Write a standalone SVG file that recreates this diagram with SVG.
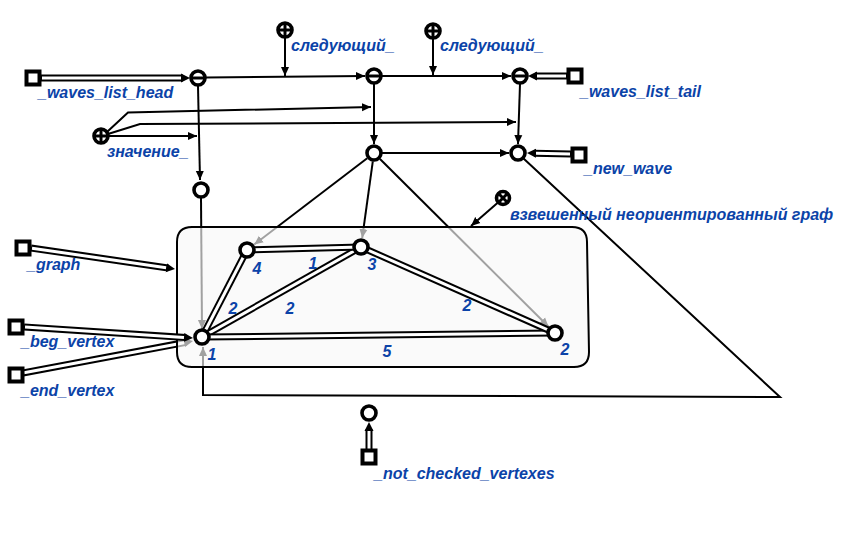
<svg xmlns="http://www.w3.org/2000/svg" width="851" height="533" viewBox="0 0 851 533">
  <defs>
    <marker id="arrow" markerUnits="userSpaceOnUse" markerWidth="10" markerHeight="10" refX="9" refY="5" orient="auto">
      <path d="M0,1 L9,5 L0,9 Z" fill="#000"/>
    </marker>
    <marker id="arrow-dbl" markerUnits="userSpaceOnUse" markerWidth="10" markerHeight="10" refX="2" refY="5" orient="auto">
      <path d="M0,0.5 L9,5 L0,9.5 Z" fill="#000"/>
    </marker>
    <style>
      .arc { fill: none; stroke: #000; stroke-width: 2; marker-end: url(#arrow); }
      .pair-out { fill: none; stroke: #000; stroke-width: 7; }
      .pair-out-a { fill: none; stroke: #000; stroke-width: 7; marker-end: url(#arrow-dbl); }
      .pair-in { fill: none; stroke: #fff; stroke-width: 3; }
      .node { fill: #fff; stroke: #000; stroke-width: 3.6; }
      .mark { stroke: #000; stroke-width: 3; }
      .sq { fill: #fff; stroke: #000; stroke-width: 4; }
      .lbl { font-family: "Liberation Sans", Arial, sans-serif; font-size: 16px; font-weight: bold; font-style: italic; fill: #0b43a8; }
      .num { text-anchor: middle; }
      .box { fill: #f8f8f8; fill-opacity: 0.65; stroke: #000; stroke-width: 2; }
    </style>
  </defs>
  <rect width="851" height="533" fill="#fff"/>

  <!-- connectors (drawn under the graph structure) -->
  <g id="connectors">
    <!-- list chain -->
    <line class="arc" x1="206" y1="77.5" x2="365" y2="76"/>
    <line class="arc" x1="382" y1="76" x2="511" y2="76"/>
    <line class="arc" x1="285" y1="38" x2="285" y2="76"/>
    <line class="arc" x1="433" y1="39" x2="433" y2="75"/>
    <line class="arc" x1="198" y1="86" x2="200" y2="180"/>
    <line class="arc" x1="374" y1="84" x2="374" y2="144"/>
    <line class="arc" x1="520" y1="84" x2="518" y2="144"/>
    <line class="arc" x1="382" y1="153" x2="509" y2="153"/>
    <!-- value_ relation -->
    <polyline class="arc" points="107,132 128,112.5 371,107"/>
    <polyline class="arc" points="108,134 140,124 516,122"/>
    <line class="arc" x1="109" y1="136" x2="197" y2="136"/>
    <!-- membership arcs into the graph -->
    <line class="arc" x1="201" y1="198" x2="202" y2="329"/>
    <line class="arc" x1="367.2" y1="158.2" x2="254.2" y2="244.5"/>
    <line class="arc" x1="372.8" y1="161.4" x2="362.2" y2="238.1"/>
    <line class="arc" x1="380" y1="159" x2="548.6" y2="326.7"/>
    <polyline class="arc" points="523,158 780,397 203,395 203,347"/>
    <!-- pointer pairs -->
    <line class="pair-out-a" x1="41" y1="78" x2="183" y2="78"/>
    <line class="pair-in" x1="42" y1="78" x2="181" y2="78"/>
    <line class="pair-out-a" x1="567" y1="76" x2="535" y2="76"/>
    <line class="pair-in" x1="566" y1="76" x2="537" y2="76"/>
    <line class="pair-out-a" x1="571" y1="154" x2="534" y2="153.2"/>
    <line class="pair-in" x1="570" y1="154" x2="536" y2="153.2"/>
    <line class="pair-out-a" x1="31" y1="248" x2="168.1" y2="268"/>
    <line class="pair-in" x1="32" y1="248.2" x2="166.1" y2="267.7"/>
    <line class="pair-out-a" x1="23" y1="373" x2="186.1" y2="342.3"/>
    <line class="pair-in" x1="24" y1="372.8" x2="184.2" y2="342.7"/>
    <line class="pair-out-a" x1="369" y1="450" x2="369" y2="429"/>
    <line class="pair-in" x1="369" y1="449" x2="369" y2="431"/>
    <line class="arc" x1="498" y1="202.5" x2="471" y2="226"/>
  </g>

  <!-- weighted undirected graph -->
  <g id="graph">
    <path class="box" d="M192,227 L572,227 Q587,227 587,242 L589,352 Q589,367 574,367 L192,367 Q177,367 177,352 L177,242 Q177,227 192,227 Z"/>
    <g id="graph-edges">
      <line class="pair-out" x1="202" y1="337" x2="247" y2="250"/>
      <line class="pair-in" x1="202" y1="337" x2="247" y2="250"/>
      <line class="pair-out" x1="202" y1="337" x2="361" y2="247"/>
      <line class="pair-in" x1="202" y1="337" x2="361" y2="247"/>
      <line class="pair-out" x1="202" y1="337" x2="555" y2="333"/>
      <line class="pair-in" x1="202" y1="337" x2="555" y2="333"/>
      <line class="pair-out" x1="247" y1="250" x2="361" y2="247"/>
      <line class="pair-in" x1="247" y1="250" x2="361" y2="247"/>
      <line class="pair-out" x1="361" y1="247" x2="555" y2="333"/>
      <line class="pair-in" x1="361" y1="247" x2="555" y2="333"/>
    </g>
    <g id="v1"><circle class="node" cx="202" cy="337" r="7"/><text class="lbl num" x="212" y="360">1</text></g>
    <g id="v2"><circle class="node" cx="555" cy="333" r="7"/><text class="lbl num" x="565" y="355">2</text></g>
    <g id="v3"><circle class="node" cx="361" cy="247" r="7"/><text class="lbl num" x="372" y="270">3</text></g>
    <g id="v4"><circle class="node" cx="247" cy="250" r="7"/><text class="lbl num" x="257" y="274">4</text></g>
    <g id="weights">
      <text class="lbl num" x="313" y="269">1</text>
      <text class="lbl num" x="233" y="314">2</text>
      <text class="lbl num" x="290" y="314">2</text>
      <text class="lbl num" x="467" y="311">2</text>
      <text class="lbl num" x="387" y="357">5</text>
    </g>
  </g>

  <!-- pair drawn over the structure border -->
  <g id="connectors-top">
    <line class="pair-out-a" x1="24" y1="327" x2="186" y2="337.6"/>
    <line class="pair-in" x1="25" y1="327.1" x2="184" y2="337.4"/>
  </g>

  <!-- list nodes -->
  <g id="wave1"><circle class="node" cx="198" cy="78" r="7"/><line class="mark" x1="192" y1="78" x2="204" y2="78"/></g>
  <g id="wave2"><circle class="node" cx="374" cy="76" r="7"/><line class="mark" x1="368" y1="76" x2="380" y2="76"/></g>
  <g id="wave3"><circle class="node" cx="520" cy="76" r="7"/><line class="mark" x1="514" y1="76" x2="526" y2="76"/></g>
  <g id="next1"><circle class="node" cx="285" cy="30" r="7"/><line class="mark" x1="279" y1="30" x2="291" y2="30"/><line class="mark" x1="285" y1="24" x2="285" y2="36"/></g>
  <g id="next2"><circle class="node" cx="433" cy="31" r="7"/><line class="mark" x1="427" y1="31" x2="439" y2="31"/><line class="mark" x1="433" y1="25" x2="433" y2="37"/></g>
  <g id="value"><circle class="node" cx="101" cy="136" r="7"/><line class="mark" x1="95" y1="136" x2="107" y2="136"/><line class="mark" x1="101" y1="130" x2="101" y2="142"/></g>
  <g id="set-d"><circle class="node" cx="374" cy="153" r="7"/></g>
  <g id="set-e"><circle class="node" cx="518" cy="153" r="7"/></g>
  <g id="set-f"><circle class="node" cx="201" cy="190" r="7"/></g>
  <g id="not-checked"><circle class="node" cx="369" cy="413" r="7"/></g>
  <g id="graph-class"><circle class="node" cx="503" cy="198" r="6.5"/><line class="mark" x1="499" y1="194" x2="507" y2="202"/><line class="mark" x1="507" y1="194" x2="499" y2="202"/></g>

  <!-- variables -->
  <g id="var-head"><rect class="sq" x="26.5" y="71.5" width="13" height="13"/></g>
  <g id="var-tail"><rect class="sq" x="568.5" y="69.5" width="13" height="13"/></g>
  <g id="var-new-wave"><rect class="sq" x="572.5" y="148.5" width="13" height="13"/></g>
  <g id="var-graph"><rect class="sq" x="16.5" y="241.5" width="13" height="13"/></g>
  <g id="var-beg"><rect class="sq" x="9.5" y="320.5" width="13" height="13"/></g>
  <g id="var-end"><rect class="sq" x="9.5" y="368.5" width="13" height="13"/></g>
  <g id="var-not-checked"><rect class="sq" x="362.5" y="450.5" width="13" height="13"/></g>

  <!-- labels -->
  <g id="labels">
    <text class="lbl" x="38" y="98">_waves_list_head</text>
    <text class="lbl" x="291" y="51">следующий_</text>
    <text class="lbl" x="440" y="51">следующий_</text>
    <text class="lbl" x="580" y="97">_waves_list_tail</text>
    <text class="lbl" x="107" y="157">значение_</text>
    <text class="lbl" x="584" y="174">_new_wave</text>
    <text class="lbl" x="510" y="220">взвешенный неориентированный граф</text>
    <text class="lbl" x="27" y="270">_graph</text>
    <text class="lbl" x="21" y="347">_beg_vertex</text>
    <text class="lbl" x="21" y="396">_end_vertex</text>
    <text class="lbl" x="374" y="479">_not_checked_vertexes</text>
  </g>
</svg>
